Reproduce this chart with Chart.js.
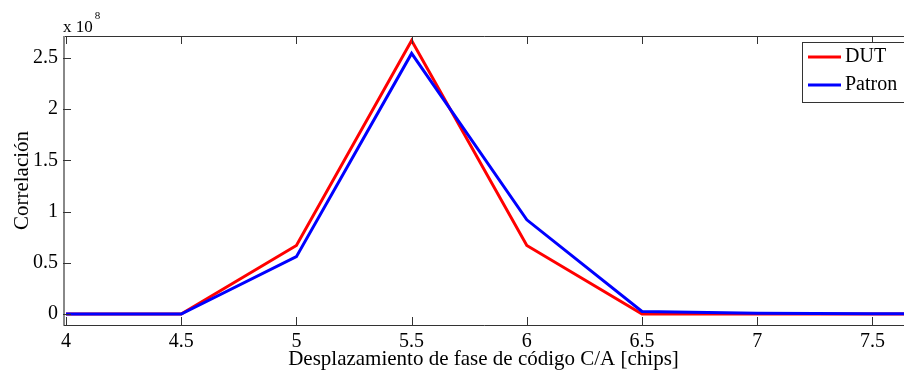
<!DOCTYPE html>
<html>
<head>
<meta charset="utf-8">
<script src="https://cdn.jsdelivr.net/npm/chart.js@4/dist/chart.umd.min.js"></script>
<style>
html,body{margin:0;padding:0;background:#fff;}
canvas{display:block;}
</style>
</head>
<body>
<canvas id="c" width="904" height="374"></canvas>
<script>
const xValues = [4, 4.5, 5, 5.5, 6, 6.5, 7, 7.5, 8];
const dutValues = [0, 0, 0.67, 2.67, 0.67, 0, 0, 0, 0];
const patronValues = [0, 0, 0.56, 2.545, 0.92, 0.025, 0.008, 0.003, 0];
const xTicks = [4, 4.5, 5, 5.5, 6, 6.5, 7, 7.5];
const yTicks = [0, 0.5, 1, 1.5, 2, 2.5];
const seriesLabels = ['DUT', 'Patron'];
const xTitle = 'Desplazamiento de fase de código C/A [chips]';
const yTitle = 'Correlación';

const FONT = '"Liberation Serif", "DejaVu Serif", serif';

const toPts = ys => xValues.map((x, i) => ({x: x, y: ys[i]}));

const framePlugin = {
  id: 'frame',
  afterDraw(chart) {
    const ctx = chart.ctx;
    const a = chart.chartArea;
    const xs = chart.scales.x, ys = chart.scales.y;
    ctx.save();
    ctx.strokeStyle = '#333';
    ctx.lineWidth = 1;
    ctx.beginPath();
    ctx.moveTo(a.right + 5, Math.round(a.top) + 0.5);
    ctx.lineTo(Math.round(a.left) + 0.5, Math.round(a.top) + 0.5);
    ctx.moveTo(Math.round(a.left) + 0.5, Math.round(a.bottom) + 0.5);
    ctx.lineTo(a.right + 5, Math.round(a.bottom) + 0.5);
    ctx.stroke();
    ctx.strokeStyle = '#888';
    ctx.lineWidth = 2;
    ctx.beginPath();
    ctx.moveTo(Math.round(a.left) + 1, Math.round(a.top));
    ctx.lineTo(Math.round(a.left) + 1, Math.round(a.bottom));
    ctx.stroke();
    ctx.strokeStyle = '#333';
    ctx.lineWidth = 1;
    const tl = 8;
    ctx.beginPath();
    xTicks.forEach(v => {
      const p = Math.round(xs.getPixelForValue(v)) + 0.5;
      ctx.moveTo(p, a.bottom); ctx.lineTo(p, a.bottom - tl);
      ctx.moveTo(p, a.top); ctx.lineTo(p, a.top + tl);
    });
    yTicks.forEach(v => {
      const p = Math.round(ys.getPixelForValue(v)) + 0.5;
      ctx.moveTo(a.left, p); ctx.lineTo(a.left + tl, p);
    });
    ctx.stroke();
    // exponent label
    ctx.fillStyle = '#000';
    ctx.textBaseline = 'alphabetic';
    ctx.textAlign = 'left';
    ctx.font = '17px ' + FONT;
    ctx.fillText('x 10', a.left, a.top - 4);
    const w = ctx.measureText('x 10').width;
    ctx.font = '11px ' + FONT;
    ctx.fillText('8', a.left + w + 2, a.top - 17);
    // legend
    const lx = 802, ly = 42, lw = 110, lh = 60;
    ctx.fillStyle = '#fff';
    ctx.fillRect(lx, ly, lw, lh);
    ctx.strokeStyle = '#333';
    ctx.strokeRect(lx + 0.5, ly + 0.5, lw, lh);
    chart.data.datasets.forEach((ds, i) => {
      const yy = ly + 15 + i * 28;
      ctx.strokeStyle = ds.borderColor;
      ctx.lineWidth = 3;
      ctx.beginPath();
      ctx.moveTo(lx + 6, yy); ctx.lineTo(lx + 39, yy);
      ctx.stroke();
      ctx.fillStyle = '#000';
      ctx.font = '20px ' + FONT;
      ctx.textBaseline = 'middle';
      ctx.fillText(ds.label, lx + 43, yy);
    });
    ctx.restore();
  }
};

new Chart(document.getElementById('c'), {
  type: 'line',
  data: {
    datasets: [
      {label: seriesLabels[0], data: toPts(dutValues), borderColor: '#ff0000', borderWidth: 3, pointRadius: 0, tension: 0, order: 1},
      {label: seriesLabels[1], data: toPts(patronValues), borderColor: '#0000ff', borderWidth: 3, pointRadius: 0, tension: 0, order: 0}
    ]
  },
  options: {
    responsive: false,
    animation: false,
    devicePixelRatio: 1,
    layout: {padding: {top: 36, right: 0, left: 0, bottom: 0}},
    plugins: {legend: {display: false}, tooltip: {enabled: false}},
    scales: {
      x: {
        type: 'linear', min: 3.987, max: 7.637,
        afterBuildTicks: s => { s.ticks = xTicks.map(v => ({value: v})); },
        afterFit: s => { s.height = 49; },
        grid: {display: false, drawTicks: false}, border: {display: false},
        ticks: {color: '#000', font: {family: FONT, size: 20}, padding: 5, autoSkip: false, maxRotation: 0,
          callback: v => String(v)},
        title: {display: true, text: xTitle, color: '#000', font: {family: FONT, size: 21}, padding: {top: 0, bottom: 2}}
      },
      y: {
        type: 'linear', min: -0.107, max: 2.715,
        afterBuildTicks: s => { s.ticks = yTicks.map(v => ({value: v})); },
        afterFit: s => { s.width = 63; },
        grid: {display: false, drawTicks: false}, border: {display: false},
        ticks: {color: '#000', font: {family: FONT, size: 20}, padding: 5, callback: v => String(v)},
        title: {display: true, text: yTitle, color: '#000', font: {family: FONT, size: 21}, padding: {top: 10, bottom: 0}}
      }
    }
  },
  plugins: [framePlugin]
});
</script>
</body>
</html>
